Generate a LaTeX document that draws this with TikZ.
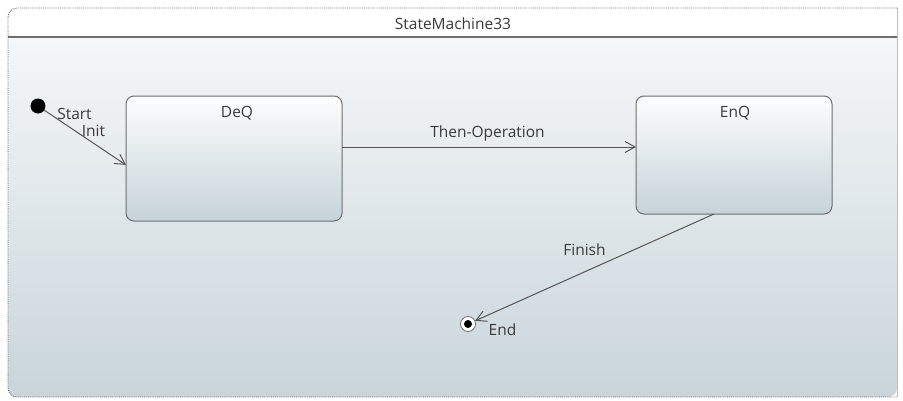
\documentclass[tikz,border=0pt]{standalone}
\usepackage{fontspec}
\setmainfont{Open Sans}
\usetikzlibrary{arrows.meta,calc}
\definecolor{edge}{HTML}{6E6E6E}
\definecolor{txt}{HTML}{3A3A3A}
\definecolor{bgtop}{HTML}{F8F9FA}
\definecolor{bgbot}{HTML}{C9D5DB}
\definecolor{boxtop}{HTML}{FDFDFE}
\definecolor{boxbot}{HTML}{C6D3D9}
\definecolor{wire}{HTML}{555555}
\tikzset{
  statebox/.style={draw=edge, line width=1pt, rounded corners=8pt,
    top color=boxtop, bottom color=boxbot},
  label/.style={text=txt, font=\fontsize{15.5}{17}\selectfont, inner sep=0pt},
  trans/.style={draw=wire, line width=1pt, -{Straight Barb[length=10pt,width=11pt,line width=1pt]}},
}
\begin{document}
\begin{tikzpicture}[x=1pt,y=-1pt]
\useasboundingbox (0,0) rectangle (903,400);
\fill[white] (0,0) rectangle (903,400);
% enclosing state machine frame
\shade[top color=bgtop, bottom color=bgbot, rounded corners=9pt] (8,8) rectangle (897,397);
\fill[white, rounded corners=9pt] (8,8) -- (8,37) -- (897,37) -- (897,8) -- cycle;
\draw[edge, line width=0.9pt, densely dotted, rounded corners=9pt] (897,8) -- (8,8) -- (8,397) -- (897,397);
\draw[black!25, line width=1pt] (897,8) -- (897,397);
\draw[edge, line width=1.2pt] (8,37) -- (897,37);
\node[label] (title) at (453,24) {StateMachine33};
% states
\node[statebox, minimum width=216pt, minimum height=125pt] (deq) at (234,158.5) {};
\node[label] (deqname) at (237,113) {DeQ};
\node[statebox, minimum width=196pt, minimum height=118pt] (enq) at (734,155) {};
\node[label] (enqname) at (735,113) {EnQ};
% pseudo states
\node[circle, fill=black, minimum size=15pt, inner sep=0pt] (init) at (38,106) {};
\node[circle, draw=edge, fill=white, line width=0.8pt, minimum size=15pt, inner sep=0pt] (final) at (468,324) {};
\node[circle, fill=black, minimum size=8pt, inner sep=0pt] (finaldot) at (final.center) {};
% transitions
\coordinate (deqin) at (126,165);
\coordinate (deqout) at (342,147);
\coordinate (enqin) at (636,147);
\coordinate (enqout) at (714,214);
\draw[trans] (init) -- (deqin);
\draw[trans] (deqout) -- (enqin);
\draw[trans] (enqout) -- (final);
% transition labels
\node[label] (start) at (74.5,114) {Start};
\node[label] (initlbl) at (93.5,131) {Init};
\node[label] (then) at (487.5,133) {Then-Operation};
\node[label] (finish) at (584.5,250) {Finish};
\node[label] (endlbl) at (502.5,330) {End};
\end{tikzpicture}
\end{document}
